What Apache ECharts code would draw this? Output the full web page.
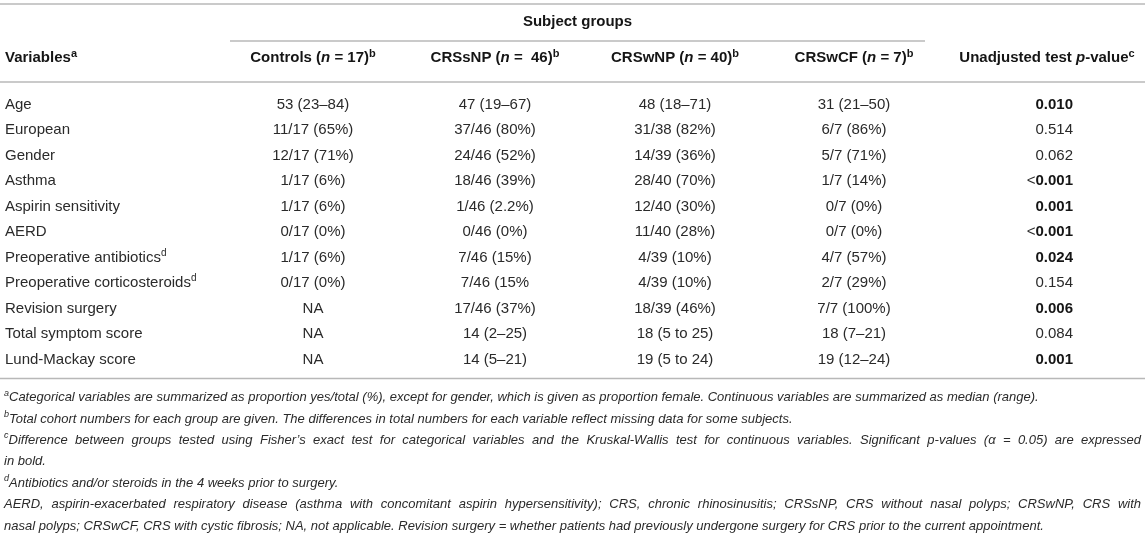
<!DOCTYPE html>
<html><head><meta charset="utf-8">
<script src="https://cdn.jsdelivr.net/npm/echarts@6/dist/echarts.min.js"></script>
<style>html,body{margin:0;padding:0;background:#fff}#c{width:1145px;height:540px}</style>
</head><body><div id="c"></div>
<script>
// ---------- data ----------
const variables = ['Age','European','Gender','Asthma','Aspirin sensitivity','AERD','Preoperative antibiotics','Preoperative corticosteroids','Revision surgery','Total symptom score','Lund-Mackay score'];
const variableNotes = ['','','','','','','d','d','','',''];
const controls = ['53 (23–84)','11/17 (65%)','12/17 (71%)','1/17 (6%)','1/17 (6%)','0/17 (0%)','1/17 (6%)','0/17 (0%)','NA','NA','NA'];
const crssnp = ['47 (19–67)','37/46 (80%)','24/46 (52%)','18/46 (39%)','1/46 (2.2%)','0/46 (0%)','7/46 (15%)','7/46 (15%','17/46 (37%)','14 (2–25)','14 (5–21)'];
const crswnp = ['48 (18–71)','31/38 (82%)','14/39 (36%)','28/40 (70%)','12/40 (30%)','11/40 (28%)','4/39 (10%)','4/39 (10%)','18/39 (46%)','18 (5 to 25)','19 (5 to 24)'];
const crswcf = ['31 (21–50)','6/7 (86%)','5/7 (71%)','1/7 (14%)','0/7 (0%)','0/7 (0%)','4/7 (57%)','2/7 (29%)','7/7 (100%)','18 (7–21)','19 (12–24)'];
const pValues = ['0.010','0.514','0.062','<0.001','0.001','<0.001','0.024','0.154','0.006','0.084','0.001'];
const significant = [true,false,false,true,true,true,true,false,true,false,true];
const groupTitle = 'Subject groups';
const groupNames = ['Controls','CRSsNP','CRSwNP','CRSwCF'];
const groupN = ['17',' 46','40','7'];
// [superscript letter, text, justified?]
const footnotes = [
  ['a','Categorical variables are summarized as proportion yes/total (%), except for gender, which is given as proportion female. Continuous variables are summarized as median (range).', false],
  ['b','Total cohort numbers for each group are given. The differences in total numbers for each variable reflect missing data for some subjects.', false],
  ['c','Difference between groups tested using Fisher’s exact test for categorical variables and the Kruskal-Wallis test for continuous variables. Significant p-values (α = 0.05) are expressed', true],
  ['','in bold.', false],
  ['d','Antibiotics and/or steroids in the 4 weeks prior to surgery.', false],
  ['','AERD, aspirin-exacerbated respiratory disease (asthma with concomitant aspirin hypersensitivity); CRS, chronic rhinosinusitis; CRSsNP, CRS without nasal polyps; CRSwNP, CRS with', true],
  ['','nasal polyps; CRSwCF, CRS with cystic fibrosis; NA, not applicable. Revision surgery = whether patients had previously undergone surgery for CRS prior to the current appointment.', false]
];

// ---------- layout (styles / positions) ----------
const W = 1145;
const FONT = '"Liberation Sans", Arial, Helvetica, sans-serif';
const FS = 15, FFS = 13;
const colAnchor = [5, 313, 495, 675, 854, 1073];   // x anchors of columns
const colAlign = ['left','center','center','center','center','right'];
const pHeaderX = 1047;
const rowTop = 92, rowH = 25.5;
const TXT = '#2a2a2a';
const HEAD = '#151515';
const LINE = '#b8b8b8';
const yTopLine = 4, yGroupTitle = 22, yGroupLine = 41, yHeader = 58, yHeaderLine = 82;
const groupLineX = [230, 925];
const yBottomLine = rowTop + rowH * variables.length + 6;
const footX = 4, footRight = 1141;
const footY0 = yBottomLine + 19, footH = 21.4;

const richBase = {
  b: {fontSize: FS, fontWeight: 'bold', fontFamily: FONT, fill: HEAD, lineHeight: 20},
  bi: {fontSize: FS, fontWeight: 'bold', fontStyle: 'italic', fontFamily: FONT, fill: HEAD, lineHeight: 20},
  bs: {fontSize: 11, fontWeight: 'bold', fontFamily: FONT, fill: HEAD, verticalAlign: 'top', lineHeight: 20},
  r: {fontSize: FS, fontFamily: FONT, fill: TXT, lineHeight: 20},
  rs: {fontSize: 10, fontFamily: FONT, fill: TXT, verticalAlign: 'top', lineHeight: 20},
  fi: {fontSize: FFS, fontStyle: 'italic', fontFamily: FONT, fill: TXT, lineHeight: 18},
  fs: {fontSize: 9, fontStyle: 'italic', fontFamily: FONT, fill: TXT, verticalAlign: 'top', lineHeight: 18}
};

// measuring helper for justified footnote lines
const mctx = document.createElement('canvas').getContext('2d');
function measure(txt, font) { mctx.font = font; return mctx.measureText(txt).width; }

// ---------- build cells ----------
const columns = [variables, controls, crssnp, crswnp, crswcf, pValues];
const cells = [];
columns.forEach((col, ci) => col.forEach((v, ri) => cells.push([colAnchor[ci], ri, ci])));

function cellText(ci, ri) {
  if (ci === 0) {
    return '{r|' + variables[ri] + '}' + (variableNotes[ri] ? '{rs|' + variableNotes[ri] + '}' : '');
  }
  if (ci === 5) {
    const v = pValues[ri];
    if (!significant[ri]) return '{r|' + v + '}';
    if (v[0] === '<') return '{r|<}{b|' + v.slice(1) + '}';
    return '{b|' + v + '}';
  }
  return '{r|' + columns[ci][ri] + '}';
}

const graphics = [];
function hline(x1, x2, y) {
  graphics.push({type: 'line', silent: true, shape: {x1, y1: y, x2, y2: y}, style: {stroke: LINE, lineWidth: 1.6}});
}
hline(0, W, yTopLine);
hline(groupLineX[0], groupLineX[1], yGroupLine);
hline(0, W, yHeaderLine);
hline(0, W, yBottomLine);

function gtext(x, y, text, align, rich) {
  graphics.push({type: 'text', silent: true, x, y, style: {text, rich: rich || richBase, align, verticalAlign: 'middle'}});
}
gtext((groupLineX[0] + groupLineX[1]) / 2, yGroupTitle, '{b|' + groupTitle + '}', 'center');
gtext(colAnchor[0], yHeader, '{b|Variables}{bs|a}', 'left');
groupNames.forEach((g, i) => {
  gtext(colAnchor[i + 1], yHeader, '{b|' + g + ' (}{bi|n}{b| = ' + groupN[i] + ')}{bs|b}', 'center');
});
gtext(pHeaderX, yHeader, '{b|Unadjusted test }{bi|p}{b|-value}{bs|c}', 'center');

const fFont = 'italic ' + FFS + 'px ' + FONT;
const sFont = 'italic 9px ' + FONT;
footnotes.forEach((f, i) => {
  const pre = f[0] ? '{fs|' + f[0] + '}' : '';
  let t;
  let rich = richBase;
  if (f[2]) {
    const words = f[1].split(' ');
    const preW = f[0] ? measure(f[0], sFont) : 0;
    const wordsW = words.reduce((s, w) => s + measure(w, fFont), 0);
    const gap = (footRight - footX - preW - wordsW) / (words.length - 1);
    rich = Object.assign({}, richBase, {sp: {width: gap, fontSize: FFS, fontFamily: FONT, lineHeight: 18}});
    t = pre + words.map(w => '{fi|' + w + '}').join('{sp| }');
  } else {
    t = pre + '{fi|' + f[1] + '}';
  }
  gtext(footX, footY0 + i * footH, t, 'left', rich);
});

const chart = echarts.init(document.getElementById('c'), null, {renderer: 'canvas'});
chart.setOption({
  animation: false,
  grid: {left: 0, right: 0, top: rowTop, height: rowH * variables.length},
  xAxis: {type: 'value', min: 0, max: W, show: false},
  yAxis: {type: 'category', data: variables, inverse: true, show: false},
  graphic: graphics,
  series: [{
    type: 'custom',
    data: cells,
    encode: {x: 0, y: 1},
    renderItem: function (params, api) {
      const ci = api.value(2), ri = api.value(1);
      const p = api.coord([api.value(0), ri]);
      return {
        type: 'text', x: p[0], y: p[1],
        style: {text: cellText(ci, ri), rich: richBase, align: colAlign[ci], verticalAlign: 'middle'}
      };
    }
  }]
});
</script></body></html>
